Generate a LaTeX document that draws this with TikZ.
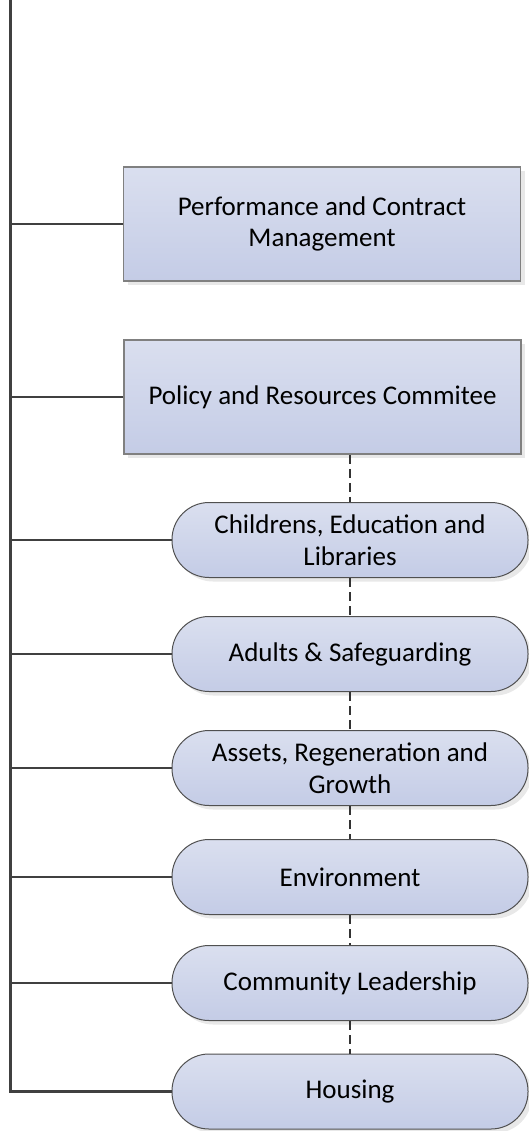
\documentclass[tikz,border=0pt]{standalone}
\usepackage{fontspec}
\setmainfont{Carlito}
\usetikzlibrary{shadows}
\definecolor{boxtop}{RGB}{218,223,239}
\definecolor{boxbot}{RGB}{196,204,230}
\definecolor{rectborder}{RGB}{128,128,128}
\definecolor{roundborder}{RGB}{80,80,80}
\definecolor{linegray}{RGB}{64,64,64}
\definecolor{shadowgray}{RGB}{232,232,232}
\tikzset{
  basebox/.style={top color=boxtop, bottom color=boxbot, align=center,
    font=\fontsize{27}{31.5}\selectfont, inner sep=0pt,
    drop shadow={shadow xshift=4pt, shadow yshift=-4pt, fill=shadowgray, opacity=1}},
  rectbox/.style={basebox, draw=rectborder, line width=1.5pt,
    minimum width=397pt, minimum height=114pt},
  pillbox/.style={basebox, draw=roundborder, line width=1pt, rounded corners=37pt,
    minimum width=356pt, minimum height=75pt},
  spine/.style={draw=linegray, line width=3pt},
  branch/.style={draw=linegray, line width=2.2pt},
  dashlink/.style={draw=linegray!80!black, line width=2.2pt, dash pattern=on 9pt off 5pt}
}
\begin{document}
\begin{tikzpicture}[x=1pt,y=-1pt]
\useasboundingbox (0,0) rectangle (529,1131);
\coordinate (t) at (10,0);
\node[rectbox] (perf) at (322,224) {Performance and Contract\\Management};
\node[rectbox] (pol) at (322.5,397) {Policy and Resources Commitee};
\node[pillbox] (chi) at (350,540) {Childrens, Education and\\Libraries};
\node[pillbox] (adu) at (350,654) {Adults \& Safeguarding};
\node[pillbox] (ass) at (350,768) {Assets, Regeneration and\\Growth};
\node[pillbox] (env) at (350,877) {Environment};
\node[pillbox] (com) at (350,983) {Community Leadership};
\node[pillbox] (hou) at (350,1091.5) {Housing};
\draw[spine] (t) |- (hou.west);
\foreach \n in {perf,pol,chi,adu,ass,env,com}{
  \draw[branch] (\n.west) -- (\n.west -| t);
}
\draw[dashlink] (pol.south -| chi.north) -- (chi.north);
\draw[dashlink] (chi.south) -- (adu.north);
\draw[dashlink] (adu.south) -- (ass.north);
\draw[dashlink] (ass.south) -- (env.north);
\draw[dashlink] (env.south) -- (com.north);
\draw[dashlink] (com.south) -- (hou.north);
\end{tikzpicture}
\end{document}
